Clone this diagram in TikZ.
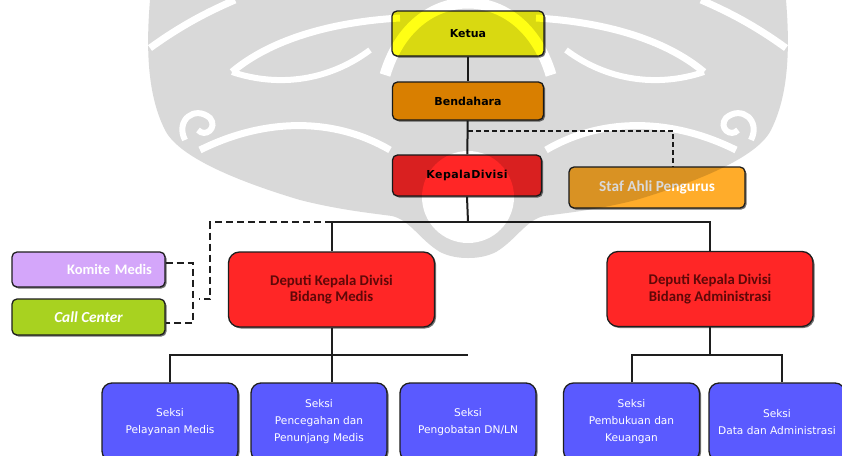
\documentclass[tikz,border=0pt]{standalone}
\usepackage{fontspec}
\setmainfont{DejaVu Sans}
\newfontfamily\carlito{Carlito}
\usetikzlibrary{shadows,calc}

\definecolor{cYel}{RGB}{255,255,20}
\definecolor{cBen}{RGB}{255,150,0}
\definecolor{cRed}{RGB}{255,38,38}
\definecolor{cStaf}{RGB}{255,172,42}
\definecolor{cKom}{RGB}{212,166,250}
\definecolor{cCall}{RGB}{168,210,32}
\definecolor{cSek}{RGB}{90,90,255}
\definecolor{cDepTxt}{RGB}{95,8,8}
\definecolor{cLine}{RGB}{30,30,30}
\definecolor{wm}{RGB}{217,217,217}

\newcommand\topfont{\fontsize{11}{13}\selectfont\bfseries}
\newcommand\depfont{\carlito\bfseries\fontsize{14.8}{16.5}\selectfont}
\newcommand\sidefont{\carlito\bfseries\fontsize{14.5}{16}\selectfont}
\newcommand\bigsidefont{\carlito\bfseries\fontsize{15.3}{16}\selectfont}
\newcommand\sekfont{\fontsize{10.6}{17}\selectfont}

% one half of the background emblem, mirrored for the other side
\newcommand\emblemhalf{%
  \fill[wm] (468,0) -- (150,0)
    .. controls (145,60) and (150,100) .. (165,130)
    .. controls (180,160) and (250,185) .. (300,200)
    .. controls (340,210) and (370,213) .. (392,216)
    .. controls (410,220) and (420,240) .. (440,252)
    .. controls (450,257) and (460,258) .. (468,258) -- cycle;
  \draw[white, line width=7] (150,48) .. controls (175,30) and (200,15) .. (235,0);
  \draw[white, line width=7] (232,72) .. controls (270,40) and (330,22) .. (400,18);
  \draw[white, line width=6] (232,72) .. controls (280,88) and (330,80) .. (370,50);
  \draw[white, line width=7] (200,150) .. controls (260,120) and (330,115) .. (390,150);
  \draw[white, line width=6] (185,140) .. controls (175,120) and (195,105) .. (210,118)
    .. controls (218,128) and (205,138) .. (198,130);
  \draw[white, line width=11] (385,75) .. controls (400,25) and (435,3) .. (468,3);
}

\begin{document}
\begin{tikzpicture}[x=1pt,y=-1pt,
  box/.style={draw=cLine, line width=1.3, rounded corners=5, align=center, inner sep=2,
    drop shadow={shadow xshift=1.5pt, shadow yshift=-1.5pt, fill=black!55, opacity=1}},
  topbox/.style={box, font=\topfont, text=black},
  depbox/.style={box, fill=cRed, rounded corners=11, minimum width=206, minimum height=75,
    font=\depfont, text=cDepTxt},
  sekbox/.style={box, fill=cSek, rounded corners=10, minimum width=136, minimum height=78,
    font=\sekfont, text=white},
  conn/.style={draw=cLine, line width=2},
  dline/.style={draw=cLine, line width=2.4, dash pattern=on 7pt off 4pt},
  sdline/.style={draw=cLine, line width=2, dash pattern=on 5pt off 3pt}]

\path[use as bounding box, clip] (0,0) rectangle (842,455);
\fill[white] (0,0) rectangle (842,455);

% connector junctions
\coordinate (tap)  at (468,131);
\coordinate (sj)   at (673,131);
\coordinate (busT) at (468,222);
\coordinate (dl1)  at (210,222);
\coordinate (dl2)  at (210,299);
\coordinate (dl3)  at (199,299);
\coordinate (cmbT) at (193,263);
\coordinate (cmbB) at (193,323);
\coordinate (busL) at (468,355);
\coordinate (busR) at (782,355);

% boxes
\node[topbox, fill=cYel, minimum width=152, minimum height=45] (ketua) at (468,33.5) {Ketua};
\node[topbox, fill=cBen, minimum width=151, minimum height=38] (bend) at (468,101) {Bendahara};
\node[topbox, fill=cRed, minimum width=149, minimum height=41] (kepala) at (467,175.5)
  {\addfontfeature{LetterSpace=4}KepalaDivisi};
\node[box, fill=cStaf, minimum width=176, minimum height=41, font=\bigsidefont, text=white]
  (staf) at (657,187.5) {Staf Ahli Pengurus};
\node[box, fill=cKom, minimum width=153, minimum height=35, font=\sidefont, text=white,
  text width=127, align=right] (komite) at (88.5,269.5) {Komite Medis};
\node[box, fill=cCall, minimum width=153, minimum height=36, font=\bigsidefont\itshape, text=white]
  (call) at (88.5,317) {Call Center};
\node[depbox] (depmed) at (331.5,289.5) {Deputi Kepala Divisi\\Bidang Medis};
\node[depbox] (depadm) at (710,289) {Deputi Kepala Divisi\\Bidang Administrasi};

\node[sekbox] (s1) at (170,422) {Seksi\\Pelayanan Medis};
\node[sekbox] (s2) at (319,422) {Seksi\\Pencegahan dan\\Penunjang Medis};
\node[sekbox] (s3) at (468,422) {Seksi\\Pengobatan DN/LN};
\node[sekbox] (s4) at (631.5,422) {Seksi\\Pembukuan dan\\Keuangan};
\node[sekbox] (s5) at (777,422) {Seksi\\Data dan Administrasi};

% solid reporting lines
\draw[conn] (ketua) -- (bend);
\draw[conn] (bend) -- (kepala);
\draw[conn] (kepala.south) -- (busT);
\draw[conn] (depmed.north) -- (depmed.north |- busT) -- (depadm.north |- busT) -- (depadm.north);
\draw[conn] (depmed.south) -- (depmed.south |- s2.north);
\draw[conn] (s1.north) |- (busL);
\draw[conn] (depadm.south) -- (depadm.south |- busR);
\draw[conn] (s4.north) |- (busR) -- (busR |- s5.north);

% dashed advisory lines
\draw[sdline] (tap) -- (sj) -- (sj |- staf.north);
\draw[dline] (depmed.north |- busT) -- (dl1) -- (dl2) -- (dl3);
\draw[dline] ($(komite.east)+(0,-6.5)$) -- (cmbT) -- (cmbB) -- ($(call.east)+(0,6)$);

% background emblem, blended over the chart
\begin{scope}[transparency group, blend mode=multiply]
  \emblemhalf
  \begin{scope}[shift={(936,0)}, xscale=-1]
    \emblemhalf
  \end{scope}
  \fill[white] (468,197) circle[radius=46];
\end{scope}

\end{tikzpicture}
\end{document}
